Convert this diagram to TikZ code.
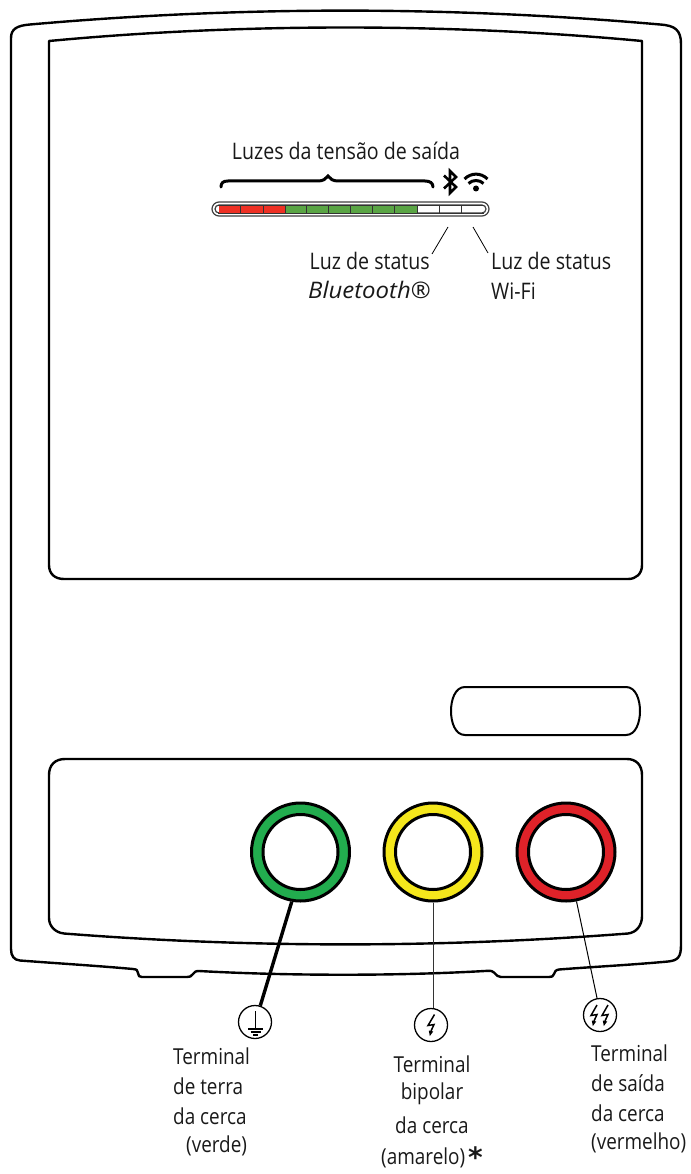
\documentclass[tikz,border=0pt]{standalone}
\usepackage{fontspec}
\setmainfont[FakeStretch=0.86]{Open Sans}
\newfontfamily\btfont[FakeStretch=1.05,ItalicFont={Open Sans Italic}]{Open Sans}
\newfontfamily\starfont{DejaVu Sans}
\definecolor{ringg}{HTML}{22AC4E}
\definecolor{ringy}{HTML}{F5E71C}
\definecolor{ringr}{HTML}{DF2229}
\definecolor{barr}{HTML}{EE3124}
\definecolor{barg}{HTML}{5AA545}
\tikzset{
  x=1pt,y=-1pt,
  outline/.style={draw=black,line width=2.4pt,line join=round,fill=none},
  ringnode/.style={circle,draw=black,line width=3pt,inner sep=0pt,minimum size=98pt},
  holenode/.style={circle,draw=black,line width=3pt,fill=white,inner sep=0pt,minimum size=75pt},
  symb/.style={circle,draw=black,line width=1.3pt,fill=white,inner sep=0pt,minimum size=33pt},
  lbl/.style={inner sep=0pt,font=\fontsize{22}{24}\selectfont,text=black!90},
  lblbig/.style={inner sep=0pt,font=\fontsize{22.8}{24}\selectfont,text=black!90},
  leader/.style={draw=black,line width=0.8pt},
  divider/.style={draw=black!80,line width=0.9pt},
  boltline/.style={draw=black,line width=1.5pt,line join=miter},
  bolttip/.style={fill=black}
}
\begin{document}
\begin{tikzpicture}
\useasboundingbox (0,0) rectangle (690,1174);
% housing
\draw[outline] (30,24.5) .. controls (240,6) and (450,6) .. (660,24.5)
  .. controls (675,25.5) and (681,30) .. (681,44) -- (681,945)
  .. controls (681,957) and (678,960.5) .. (668,961.5)
  .. controls (630,965) and (590,967) .. (559,969.5)
  .. controls (555,970) and (555,972) .. (554,974) .. controls (553,976.5) and (552,977) .. (549,977)
  -- (501,977) .. controls (498,977) and (497,975.5) .. (494,972.5) .. controls (492,971) and (491,970.5) .. (488,970.8)
  .. controls (400,976) and (290,976) .. (199,971)
  .. controls (195,971) and (195,972) .. (193,974) .. controls (191,976.5) and (190,977) .. (187,977)
  -- (142,977) .. controls (139,977) and (138.5,976) .. (138,973) .. controls (137.5,970) and (137,969.5) .. (133,969)
  .. controls (100,966) and (60,963.5) .. (20,960.5)
  .. controls (14,960) and (11,956) .. (11,949) -- (11,38)
  .. controls (11,29) and (17,25.5) .. (30,24.5) -- cycle;
% display window
\draw[outline] (49,41) .. controls (240,23) and (450,23) .. (642,41) -- (642,565)
  .. controls (642,574) and (636,579) .. (628,579) -- (64,579)
  .. controls (55,579) and (49,574) .. (49,565) -- cycle;
% button
\draw[outline,line width=2pt] (465,687) -- (626,687) .. controls (636,687) and (640,700) .. (640,711)
  .. controls (640,722) and (636,735) .. (626,735) -- (465,735)
  .. controls (455,735) and (451,722) .. (451,711) .. controls (451,700) and (455,687) .. (465,687) -- cycle;
% terminal panel
\draw[outline] (65,759) -- (627,759) .. controls (636,759) and (642,765) .. (642,775) -- (642,916)
  .. controls (642,926) and (636,932.5) .. (628,933.5)
  .. controls (440,948) and (250,948) .. (64,933.5)
  .. controls (55,932.5) and (49,926) .. (49,918) -- (49,775)
  .. controls (49,765) and (55,759) .. (65,759) -- cycle;
% symbol circles
\node[symb] (gs) at (255,1022) {};
\node[symb] (ys) at (431,1025) {};
\node[symb] (rs) at (600,1015) {};
% terminals
\node[ringnode,fill=ringg] (g) at (300.5,852) {};
\node[holenode] (gh) at (300.5,852) {};
\node[ringnode,fill=ringy] (y) at (433,852) {};
\node[holenode] (yh) at (433,852) {};
\node[ringnode,fill=ringr] (r) at (566,852) {};
\node[holenode] (rh) at (566,852) {};
% connectors
\draw[line width=3.4pt] (g.260) -- (gs.72);
\draw[draw=black!80,line width=1pt] (y.south) -- (ys.north-|y.south);
\draw[draw=black,line width=1pt] (r.-78) -- (rs.100);
% earth symbol
\draw[line width=1.1pt] (255.5,1011) -- (255.5,1029);
\draw[line width=1.1pt] (248,1029) -- (263,1029);
\draw[line width=1.1pt] (250.5,1032) -- (260.5,1032);
\draw[line width=1.1pt] (253,1035) -- (258,1035);
% bolts
\draw[boltline] (434.5,1014.5) -- (428,1025.5) -- (434,1024.5) -- (431,1031);
\fill[bolttip] (428.8,1030.5) -- (433.2,1031.5) -- (429.8,1036) -- cycle;
\draw[boltline] (597,1005) -- (591,1015.5) -- (597,1014.5) -- (594,1021);
\fill[bolttip] (591.8,1020.5) -- (596.2,1021.5) -- (592.8,1026) -- cycle;
\draw[boltline] (608,1005) -- (602,1015.5) -- (608,1014.5) -- (605,1021);
\fill[bolttip] (602.8,1020.5) -- (607.2,1021.5) -- (603.8,1026) -- cycle;
% bar
\draw[draw=black!75,line width=1.2pt,fill=white,rounded corners=7pt] (212,202) rectangle (489,216);
\draw[draw=black!75,line width=1.2pt,rounded corners=4pt] (215,205) rectangle (486,213);
\fill[barr] (219,205) rectangle (285,213);
\fill[barg] (285,205) rectangle (418,213);
\foreach \xx in {240,263,285,306,328,350,372,394,417,439,461}{\draw[divider] (\xx,205) -- (\xx,213);}
\draw[draw=black!80,line width=0.9pt] (218,205) -- (484,205) (218,213) -- (484,213);
% brace
\draw[line width=3pt,line cap=round] (221,187) .. controls (221,183) and (223,181) .. (228,181) -- (318,181)
  .. controls (323,181) and (326,179) .. (328,176) .. controls (330,179) and (333,181) .. (338,181)
  -- (425,181) .. controls (430,181) and (433,183) .. (433,187);
% bluetooth icon
\draw[line width=2.6pt,line join=miter] (444,175.5) -- (456,187) -- (450,193) -- (450,171) -- (456,177) -- (444,188.5);
% wifi icon
\draw[line width=3pt] (464.5,179) .. controls (471,172.5) and (481,172.5) .. (487.5,179);
\draw[line width=3pt] (468.5,183.5) .. controls (472.5,179.5) and (479.5,179.5) .. (483.5,183.5);
\fill (476,188.5) circle (3pt);
% leaders
\coordinate (lb1) at (448,227);
\coordinate (lb2) at (432,254);
\coordinate (lw1) at (473,227);
\coordinate (lw2) at (488,253);
\draw[leader] (lb1) -- (lb2);
\draw[leader] (lw1) -- (lw2);
% labels
\node[lblbig] (t0) at (346,151) {Luzes da tensão de saída};
\node[lblbig,anchor=east] (t1) at (430,261) {Luz de status};
\node[lblbig,anchor=east] (t2) at (431,290) {\btfont\itshape Bluetooth®};
\node[lblbig,anchor=west] (t3) at (491,261) {Luz de status};
\node[lblbig,anchor=west] (t4) at (491,291) {Wi-Fi};
\node[lbl,anchor=west] (g1) at (173,1056) {Terminal};
\node[lbl,anchor=west] (g2) at (173,1086) {de terra};
\node[lbl,anchor=west] (g3) at (173,1116) {da cerca};
\node[lbl,anchor=west] (g4) at (186,1146) {(verde)};
\node[lbl] (y1) at (432,1064) {Terminal};
\node[lbl] (y2) at (432,1094) {bipolar};
\node[lbl] (y3) at (432,1125) {da cerca};
\node[lbl,anchor=west] (y4) at (381,1158) {(amarelo)};
\node[lbl,anchor=base west,font=\fontsize{28}{28}\selectfont\starfont\bfseries] (y5) at (468,1167) {*};
\node[lbl,anchor=west] (r1) at (591,1053) {Terminal};
\node[lbl,anchor=west] (r2) at (591,1083) {de saída};
\node[lbl,anchor=west] (r3) at (591,1113) {da cerca};
\node[lbl,anchor=west] (r4) at (591,1143) {(vermelho)};
\end{tikzpicture}
\end{document}
